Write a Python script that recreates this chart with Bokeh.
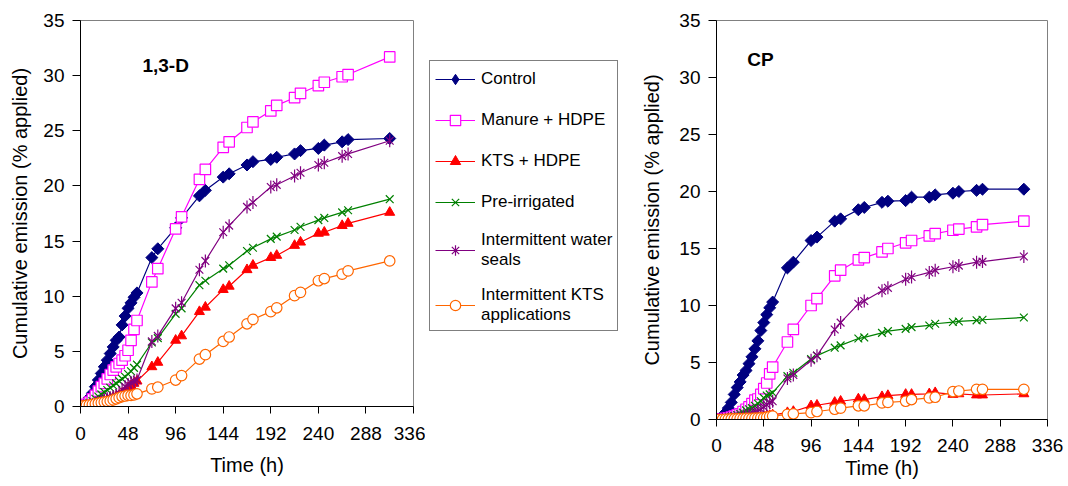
import numpy as np
from bokeh.plotting import figure
from bokeh.models import Range1d, FixedTicker, Label, Legend, LegendItem
from bokeh.layouts import row, column
from bokeh.embed import file_html
from bokeh.resources import INLINE

FONT = "Liberation Sans"

# ---------------- data ----------------
time_h = [0, 3, 6, 9, 12, 15, 18, 21, 24, 27, 30, 33, 36, 39, 42, 45, 48, 51, 54, 57,
          72, 78, 96, 102, 120, 126, 144, 150, 168, 174, 192, 198, 216, 222, 240, 246, 264, 270, 312]

series_names = ["Control", "Manure + HDPE", "KTS + HDPE", "Pre-irrigated",
                "Intermittent water\nseals", "Intermittent KTS\napplications"]

# 1,3-D cumulative emission (% applied)
d13_control = [0, 0.1, 0.35, 0.8, 1.2, 1.8, 2.4, 3.0, 3.6, 4.2, 4.8, 5.4, 6.0, 6.3, 7.4, 8.2, 8.9, 9.4, 9.9, 10.3,
               13.5, 14.3, 16.2, 17.1, 19.1, 19.6, 20.8, 21.1, 21.9, 22.2, 22.4, 22.6, 22.9, 23.2, 23.4, 23.7, 24.0, 24.2, 24.3]
d13_manure = [0, 0.1, 0.2, 0.4, 0.7, 1.0, 1.4, 1.8, 2.1, 2.5, 2.9, 3.3, 3.6, 3.9, 4.2, 4.6, 5.1, 6.0, 7.0, 7.8,
              11.3, 12.5, 16.1, 17.2, 20.6, 21.5, 23.5, 24.0, 25.3, 25.8, 26.8, 27.3, 28.0, 28.4, 29.1, 29.4, 29.9, 30.1, 31.7]
d13_kts = [0, 0, 0.05, 0.1, 0.15, 0.2, 0.3, 0.4, 0.5, 0.6, 0.7, 0.8, 0.9, 1.0, 1.2, 1.4, 1.7, 1.9, 2.1, 2.3,
           3.6, 4.0, 6.0, 6.4, 8.6, 9.0, 10.6, 10.9, 12.4, 12.8, 13.5, 13.7, 14.6, 14.9, 15.7, 15.8, 16.4, 16.6, 17.6]
d13_preirr = [0, 0.1, 0.2, 0.35, 0.5, 0.7, 0.9, 1.1, 1.3, 1.5, 1.7, 1.9, 2.1, 2.3, 2.5, 2.7, 2.95, 3.2, 3.5, 3.8,
              5.8, 6.2, 8.4, 8.9, 11.0, 11.4, 12.5, 12.8, 14.1, 14.4, 15.2, 15.4, 16.0, 16.3, 16.9, 17.1, 17.6, 17.8, 18.8]
d13_water = [0, 0.05, 0.1, 0.15, 0.2, 0.3, 0.4, 0.5, 0.6, 0.7, 0.8, 0.9, 1.0, 1.2, 1.5, 1.8, 2.0, 2.15, 2.3, 2.4,
             5.9, 6.4, 8.9, 9.4, 12.4, 13.2, 15.8, 16.4, 18.1, 18.5, 19.9, 20.1, 20.9, 21.2, 21.9, 22.1, 22.7, 22.9, 24.1]
d13_ktsapp = [0, 0.05, 0.1, 0.15, 0.2, 0.25, 0.3, 0.35, 0.4, 0.45, 0.5, 0.6, 0.7, 0.8, 0.9, 0.95, 1.0, 1.0, 1.05, 1.15,
              1.6, 1.75, 2.4, 2.8, 4.3, 4.7, 5.9, 6.3, 7.5, 7.9, 8.6, 8.95, 10.05, 10.35, 11.4, 11.6, 12.0, 12.3, 13.2]

# CP cumulative emission (% applied)
cp_control = [0, 0.05, 0.2, 0.6, 1.0, 1.5, 2.2, 2.8, 3.3, 3.9, 4.3, 4.9, 5.5, 6.2, 6.9, 7.8, 8.5, 9.2, 9.8, 10.3,
              13.3, 13.8, 15.7, 16.0, 17.4, 17.6, 18.4, 18.6, 19.05, 19.15, 19.2, 19.5, 19.5, 19.7, 19.85, 20.0, 20.1, 20.2, 20.2]
cp_manure = [0, 0, 0.05, 0.1, 0.15, 0.2, 0.3, 0.4, 0.5, 0.7, 0.9, 1.1, 1.4, 1.7, 1.8, 2.2, 2.7, 3.2, 4.0, 4.6,
             6.8, 7.9, 10.0, 10.6, 12.6, 13.1, 14.0, 14.2, 14.7, 15.0, 15.5, 15.7, 16.1, 16.3, 16.6, 16.7, 16.9, 17.1, 17.4]
cp_kts = [0, 0, 0, 0, 0.02, 0.05, 0.05, 0.08, 0.1, 0.1, 0.12, 0.15, 0.15, 0.18, 0.2, 0.22, 0.25, 0.3, 0.35, 0.4,
          0.6, 0.7, 1.2, 1.25, 1.5, 1.6, 1.8, 1.75, 2.0, 2.1, 2.2, 2.2, 2.25, 2.35, 2.2, 2.25, 2.15, 2.15, 2.25]
cp_preirr = [0, 0, 0.05, 0.1, 0.15, 0.2, 0.3, 0.4, 0.5, 0.6, 0.8, 0.9, 1.0, 1.2, 1.4, 1.6, 1.9, 2.1, 2.2, 2.35,
             3.8, 4.1, 5.3, 5.6, 6.3, 6.5, 7.1, 7.2, 7.6, 7.75, 7.95, 8.1, 8.25, 8.4, 8.55, 8.6, 8.7, 8.75, 8.95]
cp_water = [0, 0, 0.02, 0.05, 0.08, 0.1, 0.15, 0.2, 0.25, 0.3, 0.35, 0.4, 0.5, 0.6, 0.7, 0.9, 1.1, 1.3, 1.5, 1.6,
            3.6, 3.9, 5.2, 5.6, 7.9, 8.5, 10.15, 10.4, 11.3, 11.55, 12.3, 12.5, 12.9, 13.1, 13.4, 13.5, 13.8, 13.85, 14.3]
cp_ktsapp = [0, 0, 0, 0.02, 0.03, 0.05, 0.05, 0.06, 0.08, 0.08, 0.1, 0.1, 0.1, 0.12, 0.12, 0.15, 0.15, 0.2, 0.25, 0.3,
             0.45, 0.5, 0.6, 0.7, 0.9, 1.0, 1.2, 1.2, 1.45, 1.5, 1.6, 1.75, 1.9, 1.95, 2.45, 2.5, 2.65, 2.65, 2.65]

x_ticks = [0, 48, 96, 144, 192, 240, 288, 336]
y_ticks = [0, 5, 10, 15, 20, 25, 30, 35]

# ---------------- styles ----------------
STYLES = [
    dict(color="#000080", kind="diamond"),
    dict(color="#FF00FF", kind="square"),
    dict(color="#FF0000", kind="triangle"),
    dict(color="#008000", kind="x"),
    dict(color="#800080", kind="star"),
    dict(color="#FF6600", kind="circle"),
]


def add_series(p, t, v, st, for_legend=False):
    c = st["color"]
    rs = [p.line(t, v, line_color=c, line_width=1.2)]
    k = st["kind"]
    if k == "diamond":
        if for_legend:
            rs.append(p.scatter(t, v, marker="diamond", size=12, fill_color=c, line_color=c))
        else:
            rs.append(p.scatter(t, v, marker="square", angle=np.pi / 4, size=8.5,
                                fill_color=c, line_color=c))
    elif k == "square":
        rs.append(p.scatter(t, v, marker="square", size=10.5, fill_color="white",
                            line_color=c, line_width=1.2))
    elif k == "triangle":
        rs.append(p.scatter(t, v, marker="triangle", size=10, fill_color=c, line_color=c))
    elif k == "x":
        rs.append(p.scatter(t, v, marker="x", size=11, line_color=c, line_width=1.2))
    elif k == "star":
        if for_legend:
            rs.append(p.scatter(t, v, marker="asterisk", size=11, line_color=c, line_width=1.2))
        else:
            rs.append(p.scatter(t, v, marker="x", size=11, line_color=c, line_width=1.2))
            rs.append(p.scatter(t, v, marker="dash", angle=np.pi / 2, size=13,
                                line_color=c, line_width=1.2))
    elif k == "circle":
        rs.append(p.scatter(t, v, marker="circle", size=10.5, fill_color="white",
                            line_color=c, line_width=1.2))
    return rs


def make_panel(width, height, b_left, b_right, b_bottom, ylab_standoff, xlbl_standoff, xlab_standoff):
    p = figure(width=width, height=height, x_range=Range1d(0, 336), y_range=Range1d(0, 35),
               output_backend="svg", toolbar_location=None,
               min_border_left=b_left, min_border_right=b_right,
               min_border_top=20, min_border_bottom=b_bottom)
    p.xgrid.visible = False
    p.ygrid.visible = False
    p.outline_line_color = "#808080"
    p.outline_line_width = 1
    p.background_fill_color = "white"
    p.border_fill_color = "white"
    p.xaxis.ticker = FixedTicker(ticks=x_ticks)
    p.yaxis.ticker = FixedTicker(ticks=y_ticks)
    p.xaxis.axis_label = "Time (h)"
    p.yaxis.axis_label = "Cumulative emission (% applied)"
    for ax in (p.xaxis, p.yaxis):
        ax.axis_line_color = "black"
        ax.major_tick_line_color = "black"
        ax.major_tick_in = 0
        ax.minor_tick_in = 0
        ax.minor_tick_out = 0
        ax.major_label_text_font = FONT
        ax.major_label_text_font_size = "19px"
        ax.major_label_text_color = "black"
        ax.axis_label_text_font = FONT
        ax.axis_label_text_font_size = "20px"
        ax.axis_label_text_font_style = "normal"
        ax.axis_label_text_color = "black"
    p.yaxis.major_tick_out = 8
    p.yaxis.major_label_standoff = 8
    p.yaxis.axis_label_standoff = ylab_standoff
    p.xaxis.major_tick_out = 7
    p.xaxis.major_label_standoff = xlbl_standoff
    p.xaxis.axis_label_standoff = xlab_standoff
    return p


d13_series = [d13_control, d13_manure, d13_kts, d13_preirr, d13_water, d13_ktsapp]
cp_series = [cp_control, cp_manure, cp_kts, cp_preirr, cp_water, cp_ktsapp]

# left panel: 1,3-D  (frame 80..413 x 20..406)
p1 = make_panel(425, 486, 80, 12, 80, 9, 13, 11)
for vals, st in zip(d13_series, STYLES):
    add_series(p1, time_h, vals, st)
p1.add_layout(Label(x=62.5, y=30.9, text="1,3-D", text_font=FONT, text_font_size="19px",
                    text_font_style="bold", text_color="black", text_baseline="alphabetic"))

# middle strip holding the shared legend (its series are drawn outside the visible range)
pl = figure(width=205, height=486, x_range=Range1d(-20, -10), y_range=Range1d(-20, -10),
            output_backend="svg", toolbar_location=None,
            x_axis_location=None, y_axis_location=None,
            min_border_left=0, min_border_right=0, min_border_top=20, min_border_bottom=67)
pl.xgrid.visible = False
pl.ygrid.visible = False
pl.outline_line_color = None
pl.background_fill_color = "white"
pl.border_fill_color = "white"
items = []
for name, vals, st in zip(series_names, d13_series, STYLES):
    rs = add_series(pl, time_h, vals, st, for_legend=True)
    items.append(LegendItem(label=name, renderers=rs))
leg = Legend(items=items, location=(4, 88), margin=0, padding=5, spacing=15,
             glyph_width=40, glyph_height=26, label_height=20, label_standoff=6,
             label_text_font=FONT, label_text_font_size="17px", label_text_color="black",
             border_line_color="black", border_line_width=1, background_fill_color="white",
             background_fill_alpha=1.0)
pl.add_layout(leg)

# right panel: CP (frame 716..1047 x 20..419)
p2 = make_panel(438, 486, 86, 21, 67, 13, 12, 2)
for vals, st in zip(cp_series, STYLES):
    add_series(p2, time_h, vals, st)
p2.add_layout(Label(x=31.2, y=31.6, text="CP", text_font=FONT, text_font_size="19px",
                    text_font_style="bold", text_color="black", text_baseline="alphabetic"))

layout = row(column(p1), column(pl), column(p2))
open("out.html", "w").write(file_html(layout, INLINE))
